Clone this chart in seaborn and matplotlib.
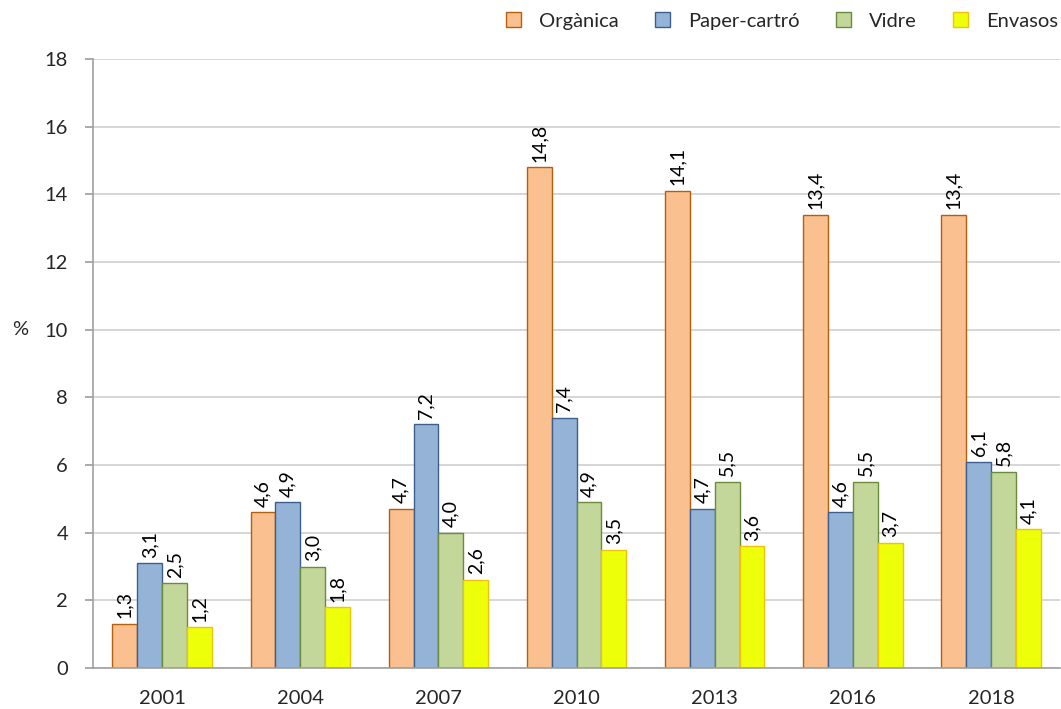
import matplotlib
matplotlib.use('Agg')
import matplotlib.pyplot as plt
import seaborn as sns
import pandas as pd

years = ['2001', '2004', '2007', '2010', '2013', '2016', '2018']
series = ['Orgànica', 'Paper-cartró', 'Vidre', 'Envasos']
organica = [1.3, 4.6, 4.7, 14.8, 14.1, 13.4, 13.4]
paper = [3.1, 4.9, 7.2, 7.4, 4.7, 4.6, 6.1]
vidre = [2.5, 3.0, 4.0, 4.9, 5.5, 5.5, 5.8]
envasos = [1.2, 1.8, 2.6, 3.5, 3.6, 3.7, 4.1]

fills = ['#FAC090', '#95B3D7', '#C4D79B', '#EEFF0A']
edges = ['#B45F0E', '#3C5F8C', '#6A8A3C', '#F2C20A']

df = pd.DataFrame({
    'Any': years * 4,
    'Tipus': [s for s in series for _ in years],
    'Valor': organica + paper + vidre + envasos,
})

sns.set_theme(style='white')
plt.rcParams['font.family'] = ['Lato', 'DejaVu Sans']

fig = plt.figure(figsize=(10.61, 7.09), dpi=100)
ax = fig.add_axes([0.0877, 0.0578, 0.9115, 0.859])

sns.barplot(data=df, x='Any', y='Valor', hue='Tipus', hue_order=series,
            palette=fills, saturation=1, width=0.72, gap=0, ax=ax, legend=True)

for cont, ec, vals in zip(ax.containers, edges, [organica, paper, vidre, envasos]):
    for bar in cont:
        bar.set_edgecolor(ec)
        bar.set_linewidth(1.0)
    ax.bar_label(cont, labels=[f'{v:.1f}'.replace('.', ',') for v in vals],
                 rotation=90, padding=4, fontsize=14, color='black')

ax.set_ylim(0, 18)
ax.set_yticks(range(0, 19, 2))
ax.set_xlim(-0.5, 6.5)
ax.yaxis.grid(True, color='#D0D0D0', linewidth=1.2)
ax.set_axisbelow(True)
for s in ['top', 'right']:
    ax.spines[s].set_visible(False)
ax.spines['left'].set_color('#A0A0A0')
ax.spines['bottom'].set_color('#A0A0A0')
ax.spines['left'].set_linewidth(1.2)
ax.spines['bottom'].set_linewidth(1.2)
ax.tick_params(axis='y', left=True, length=6, color='#A0A0A0', labelsize=14.5, pad=12)
ax.tick_params(axis='x', bottom=False, labelsize=14.5, pad=10)
ax.set_xlabel('')
ax.set_ylabel('%', rotation=0, fontsize=14.5, ha='center', va='center')
ax.yaxis.set_label_coords(-0.075, 10 / 18, transform=ax.transAxes)

handles, labels = ax.get_legend_handles_labels()
for h, ec in zip(handles, edges):
    h.set_edgecolor(ec)
ax.legend(handles, labels, loc='lower right', bbox_to_anchor=(1.0, 1.045), ncol=4,
          frameon=False, fontsize=14.5, handlelength=0.75, handleheight=0.75,
          columnspacing=1.8, handletextpad=0.9, borderaxespad=0.0, borderpad=0.1)

plt.savefig('out.png', dpi=100)
plt.close()
